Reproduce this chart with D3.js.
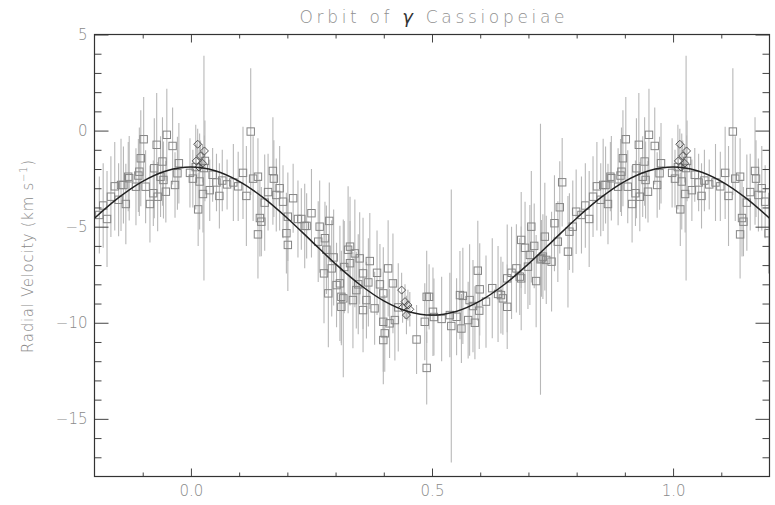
<!DOCTYPE html>
<html>
<head>
<meta charset="utf-8">
<script src="https://cdn.jsdelivr.net/npm/d3@7"></script>
<style>
  html, body { margin: 0; padding: 0; background: #fff; }
  svg { display: block; }
  text { font-family: "DejaVu Sans", "Liberation Sans", sans-serif; }
</style>
</head>
<body>
<svg id="chart" width="775" height="505"></svg>
<script>
// Radial velocities of gamma Cas, folded on the orbital period.
// Squares: individual measurements (phase, km/s, 1-sigma error).
const sqPhase = [0.004,0.010,0.015,0.018,0.025,0.027,0.029,0.039,0.045,0.053,0.059,0.065,0.075,0.088,0.098,0.108,0.115,0.124,0.129,0.139,0.139,0.143,0.146,0.153,0.160,0.170,0.172,0.177,0.184,0.191,0.198,0.201,0.201,0.212,0.222,0.229,0.236,0.240,0.250,0.264,0.267,0.276,0.278,0.281,0.285,0.287,0.292,0.296,0.302,0.309,0.312,0.312,0.316,0.318,0.326,0.330,0.330,0.336,0.340,0.343,0.347,0.350,0.357,0.357,0.364,0.368,0.371,0.381,0.386,0.392,0.399,0.399,0.399,0.402,0.409,0.412,0.419,0.423,0.430,0.468,0.485,0.489,0.489,0.494,0.502,0.504,0.520,0.537,0.540,0.551,0.558,0.561,0.564,0.575,0.578,0.585,0.589,0.595,0.598,0.599,0.612,0.625,0.637,0.643,0.647,0.656,0.656,0.665,0.675,0.682,0.685,0.685,0.693,0.699,0.703,0.706,0.712,0.716,0.725,0.727,0.730,0.734,0.737,0.748,0.754,0.761,0.765,0.770,0.782,0.785,0.792,0.799,0.810,0.818,0.826,0.834,0.842,0.850,0.855,0.860,0.865,0.870,0.872,0.886,0.891,0.893,0.896,0.902,0.906,0.915,0.922,0.924,0.929,0.931,0.937,0.941,0.943,0.948,0.950,0.962,0.967,0.972,0.975,0.998];
const sqRV = [-2.5,-1.9,-4.1,-2.65,-3.3,-1.95,-1.58,-3.1,-2.3,-2.7,-3.4,-2.6,-2.8,-2.7,-2.9,-2.2,-3.4,-0.05,-2.5,-2.4,-5.4,-4.55,-4.74,-3.75,-3.2,-2.1,-2.5,-3.35,-3.0,-3.7,-5.34,-4.48,-5.95,-3.52,-4.6,-4.6,-4.96,-4.96,-4.3,-5.78,-5.0,-7.43,-5.6,-6.2,-8.47,-4.7,-7.17,-6.6,-8.04,-7.95,-8.65,-9.17,-8.73,-7.1,-6.2,-6.04,-6.9,-8.82,-6.39,-8.3,-8.0,-6.65,-7.43,-9.34,-8.82,-7.9,-6.79,-9.25,-7.4,-8.0,-8.47,-9.95,-10.9,-10.55,-7.17,-10.03,-7.95,-9.86,-9.2,-10.87,-9.95,-8.65,-12.35,-8.65,-9.43,-9.7,-9.8,-9.6,-10.17,-9.69,-8.56,-10.3,-8.6,-9.86,-8.82,-9.13,-10.0,-7.29,-9.37,-8.26,-8.9,-8.2,-8.5,-8.56,-8.73,-9.17,-7.69,-7.4,-7.17,-7.6,-7.69,-5.69,-6.1,-7.08,-6.47,-5.0,-6.0,-7.83,-6.7,-6.65,-6.56,-5.52,-6.73,-6.82,-4.82,-5.78,-3.99,-2.69,-6.3,-5.26,-5.0,-4.22,-4.39,-3.9,-4.6,-3.44,-2.9,-3.6,-2.83,-2.83,-3.82,-2.4,-2.48,-2.92,-2.34,-2.14,-1.44,-0.45,-2.92,-3.82,-3.26,-1.96,-0.74,-3.44,-2.4,-1.61,-2.57,-3.18,-0.22,-0.8,-2.83,-2.22,-1.7,-2.2];
const sqErr = [1.5,2.2,1.9,2.5,2.0,5.85,2.1,1.6,1.4,1.5,1.7,1.6,1.3,2.0,1.8,2.4,2.6,3.3,2.2,2.0,2.3,2.0,1.8,2.5,2.0,2.8,2.0,1.9,2.2,1.9,2.1,2.3,2.4,1.8,2.0,1.6,2.2,1.7,2.3,2.1,2.4,2.6,1.9,2.3,2.8,2.0,2.5,2.5,2.2,3.0,2.4,2.0,4.1,2.4,3.3,2.6,2.2,2.5,2.8,2.0,2.6,2.4,2.9,2.2,2.0,2.3,2.5,1.9,2.2,2.1,2.4,2.6,2.3,2.0,2.5,1.8,2.6,2.1,2.3,1.8,2.0,2.4,1.9,1.7,2.3,2.0,2.2,2.2,7.1,2.0,2.3,1.8,2.5,2.0,2.9,2.4,1.9,2.6,2.0,2.4,2.4,2.6,2.5,2.0,1.9,2.2,2.8,2.4,2.3,2.0,2.7,2.5,2.4,2.2,2.6,2.9,2.2,2.4,7.05,2.0,2.2,2.8,2.3,2.6,2.5,2.1,2.4,2.3,2.9,2.0,2.4,2.2,2.0,2.2,2.5,2.1,2.3,1.9,2.4,2.0,2.1,1.8,2.2,2.0,1.9,2.3,2.5,2.2,1.9,2.0,1.7,2.6,2.7,1.8,2.1,2.3,2.0,1.6,2.4,2.0,1.7,1.9,2.1,1.8];

// Diamonds: second set of measurements.
const dmPhase = [0.011, 0.014, 0.017, 0.020, 0.024, 0.028, 0.437, 0.439, 0.444, 0.447, 0.450, 0.454];
const dmRV    = [-1.58, -0.71, -1.9, -1.32, -1.7, -1.06, -8.3, -9.2, -8.9, -9.6, -9.08, -9.3];
const dmErr   = [0.9, 0.8, 0.9, 0.8, 1.0, 0.8, 0.9, 0.8, 0.9, 1.0, 0.8, 0.9];

// Orbital solution sampled every 0.05 in phase.
const fitPhase = [-0.20,-0.15,-0.10,-0.05,0.00,0.05,0.10,0.15,0.20,0.25,0.30,0.35,0.40,0.45,0.50,0.55,0.60,0.65,0.70,0.75,0.80,0.85,0.90,0.95,1.00,1.05,1.10,1.15,1.20];
const fitRV    = [-4.56,-3.49,-2.64,-2.09,-1.90,-2.09,-2.64,-3.49,-4.56,-5.75,-6.94,-8.01,-8.86,-9.41,-9.60,-9.41,-8.86,-8.01,-6.94,-5.75,-4.56,-3.49,-2.64,-2.09,-1.90,-2.09,-2.64,-3.49,-4.56];

// Axis ticks
const xMajor = [0.0, 0.5, 1.0];
const xMinor = [-0.1,0.1,0.2,0.3,0.4,0.6,0.7,0.8,0.9,1.1];
const yMajor = [5, 0, -5, -10, -15];
const yMinor = [4,3,2,1,-1,-2,-3,-4,-6,-7,-8,-9,-11,-12,-13,-14,-16,-17];

const plot = { left: 94.5, right: 769.5, top: 34.5, bottom: 476.5 };

const svg = d3.select("#chart");
const x = d3.scaleLinear().domain([-0.2, 1.2]).range([plot.left, plot.right]);
const y = d3.scaleLinear().domain([-18, 5]).range([plot.bottom, plot.top]);

svg.append("defs").append("clipPath").attr("id", "plotclip")
  .append("rect")
  .attr("x", plot.left).attr("y", plot.top)
  .attr("width", plot.right - plot.left).attr("height", plot.bottom - plot.top);

// Fold the phases so that the ends of the cycle repeat outside [0,1].
function wrap(phases, rvs, errs) {
  const out = [];
  phases.forEach((p, i) => {
    [p - 1, p, p + 1].forEach(q => {
      if (q >= -0.2 && q <= 1.2) out.push({ p: q, v: rvs[i], e: errs[i] });
    });
  });
  return out;
}
const squares = wrap(sqPhase, sqRV, sqErr);
const diamonds = wrap(dmPhase, dmRV, dmErr);

const marks = svg.append("g").attr("clip-path", "url(#plotclip)");

// Error bars
marks.append("g")
  .selectAll("line")
  .data(squares.concat(diamonds))
  .join("line")
  .attr("x1", d => x(d.p)).attr("x2", d => x(d.p))
  .attr("y1", d => y(d.v + d.e)).attr("y2", d => y(d.v - d.e))
  .attr("stroke", "#b8b8b8").attr("stroke-width", 1.1);

// Square markers
const s = 3.7;
marks.append("g")
  .selectAll("rect")
  .data(squares)
  .join("rect")
  .attr("x", d => x(d.p) - s).attr("y", d => y(d.v) - s)
  .attr("width", 2 * s).attr("height", 2 * s)
  .attr("fill", "none").attr("stroke", "#858585").attr("stroke-width", 1);

// Diamond markers
const r = 4;
marks.append("g")
  .selectAll("path")
  .data(diamonds)
  .join("path")
  .attr("d", d => {
    const cx = x(d.p), cy = y(d.v);
    return `M${cx},${cy - r}L${cx + r},${cy}L${cx},${cy + r}L${cx - r},${cy}Z`;
  })
  .attr("fill", "none").attr("stroke", "#555").attr("stroke-width", 1);

// Orbit curve
marks.append("path")
  .datum(fitPhase.map((p, i) => [p, fitRV[i]]))
  .attr("d", d3.line().x(d => x(d[0])).y(d => y(d[1])).curve(d3.curveCatmullRom))
  .attr("fill", "none").attr("stroke", "#222").attr("stroke-width", 1.5);

// Axes: ticks point inward on all four sides.
const tickColor = "#444", labelColor = "#8a8a8a";
function styleAxis(g) {
  g.select(".domain").remove();
  g.selectAll(".tick line").attr("stroke", tickColor).attr("stroke-width", 1);
  g.selectAll(".tick text").attr("fill", labelColor).attr("font-size", 15)
    .attr("font-family", "DejaVu Sans, sans-serif").attr("font-weight", 300);
}

svg.append("g").attr("transform", `translate(0,${plot.bottom})`)
  .call(d3.axisBottom(x).tickValues(xMajor).tickSize(-8).tickPadding(9).tickFormat(d3.format(".1f")))
  .call(styleAxis);
svg.append("g").attr("transform", `translate(0,${plot.bottom})`)
  .call(d3.axisBottom(x).tickValues(xMinor).tickSize(-4).tickFormat(""))
  .call(styleAxis);
svg.append("g").attr("transform", `translate(0,${plot.top})`)
  .call(d3.axisTop(x).tickValues(xMajor).tickSize(-8).tickFormat(""))
  .call(styleAxis);
svg.append("g").attr("transform", `translate(0,${plot.top})`)
  .call(d3.axisTop(x).tickValues(xMinor).tickSize(-4).tickFormat(""))
  .call(styleAxis);

svg.append("g").attr("transform", `translate(${plot.left},0)`)
  .call(d3.axisLeft(y).tickValues(yMajor).tickSize(-14).tickPadding(7).tickFormat(d3.format("d")))
  .call(styleAxis);
svg.append("g").attr("transform", `translate(${plot.left},0)`)
  .call(d3.axisLeft(y).tickValues(yMinor).tickSize(-7).tickFormat(""))
  .call(styleAxis);
svg.append("g").attr("transform", `translate(${plot.right},0)`)
  .call(d3.axisRight(y).tickValues(yMajor).tickSize(-14).tickFormat(""))
  .call(styleAxis);
svg.append("g").attr("transform", `translate(${plot.right},0)`)
  .call(d3.axisRight(y).tickValues(yMinor).tickSize(-7).tickFormat(""))
  .call(styleAxis);

// Plot frame
svg.append("rect")
  .attr("x", plot.left).attr("y", plot.top)
  .attr("width", plot.right - plot.left).attr("height", plot.bottom - plot.top)
  .attr("fill", "none").attr("stroke", "#333").attr("stroke-width", 1.2);

// Title
const title = svg.append("text")
  .attr("x", (plot.left + plot.right) / 2).attr("y", 23)
  .attr("text-anchor", "middle")
  .attr("font-size", 17).attr("font-weight", 300)
  .attr("fill", "#909090")
  .attr("textLength", 265).attr("lengthAdjust", "spacing");
title.append("tspan").text("Orbit of ");
title.append("tspan").text("γ").attr("fill", "#333").attr("font-style", "italic")
  .attr("font-size", 18).attr("font-weight", 400);
title.append("tspan").text(" Cassiopeiae");

// Y axis label
const yl = svg.append("text")
  .attr("transform", `translate(33,${(160 + 353) / 2}) rotate(-90)`)
  .attr("text-anchor", "middle")
  .attr("font-size", 15).attr("font-weight", 300)
  .attr("fill", labelColor)
  .attr("textLength", 193).attr("lengthAdjust", "spacing");
yl.append("tspan").text("Radial Velocity (km s");
yl.append("tspan").text("−1").attr("font-size", 10).attr("dy", -6);
yl.append("tspan").text(")").attr("dy", 6);
</script>
</body>
</html>
